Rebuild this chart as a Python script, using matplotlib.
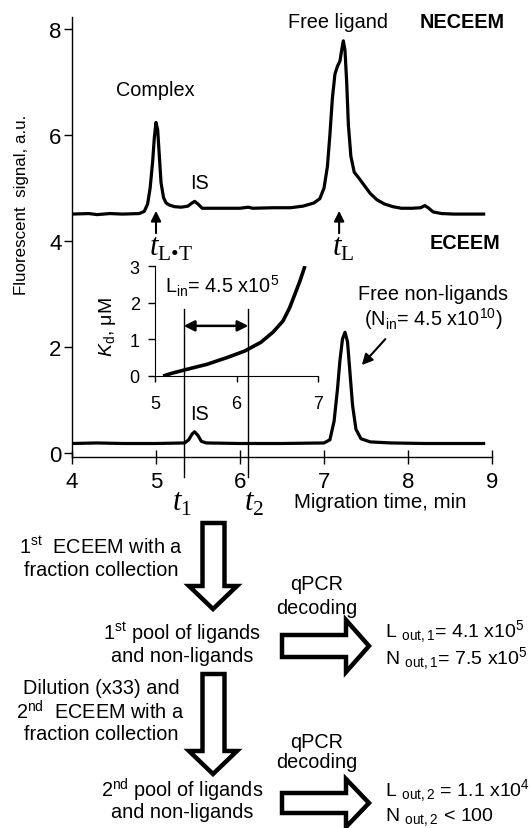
import matplotlib
matplotlib.use('Agg')
import matplotlib.pyplot as plt
from matplotlib.patches import Polygon

plt.rcParams['font.family'] = ['Liberation Sans', 'DejaVu Sans']
plt.rcParams['mathtext.fontset'] = 'custom'
plt.rcParams['mathtext.rm'] = 'Liberation Sans'
plt.rcParams['mathtext.it'] = 'Liberation Sans:italic'
plt.rcParams['mathtext.bf'] = 'Liberation Sans:bold'
plt.rcParams['mathtext.sf'] = 'Liberation Serif'
plt.rcParams['mathtext.cal'] = 'Liberation Serif:italic'

# NECEEM trace (migration time, min / signal, a.u.)
neceem_t = [4.00, 4.20, 4.30, 4.45, 4.60, 4.80, 4.86, 4.90, 4.93, 4.96, 4.98, 5.00,
            5.02, 5.04, 5.06, 5.09, 5.12, 5.16, 5.22, 5.30, 5.38, 5.42, 5.46, 5.50,
            5.55, 5.70, 6.00, 6.10, 6.15, 6.40, 6.60, 6.75, 6.88, 6.95, 7.00, 7.04,
            7.07, 7.10, 7.13, 7.16, 7.19, 7.21, 7.23, 7.25, 7.27, 7.29, 7.32, 7.36,
            7.41, 7.48, 7.55, 7.63, 7.72, 7.82, 7.92, 8.05, 8.15, 8.20, 8.24, 8.30,
            8.40, 8.55, 8.70, 8.90]
neceem_sig = [4.51, 4.52, 4.50, 4.52, 4.51, 4.52, 4.56, 4.70, 5.00, 5.50, 5.95, 6.24,
              6.10, 5.60, 5.10, 4.82, 4.72, 4.68, 4.65, 4.64, 4.66, 4.71, 4.75, 4.70,
              4.62, 4.62, 4.62, 4.64, 4.62, 4.63, 4.63, 4.66, 4.72, 4.80, 5.00, 5.40,
              6.00, 6.70, 7.15, 7.30, 7.40, 7.60, 7.78, 7.60, 7.00, 6.20, 5.60, 5.30,
              5.20, 5.05, 4.90, 4.78, 4.70, 4.65, 4.62, 4.62, 4.63, 4.67, 4.63, 4.55,
              4.52, 4.51, 4.51, 4.51]

# ECEEM trace
eceem_t = [4.00, 4.30, 4.60, 5.00, 5.34, 5.39, 5.43, 5.46, 5.50, 5.54, 5.60, 6.00,
           6.50, 7.00, 7.07, 7.12, 7.16, 7.19, 7.22, 7.25, 7.28, 7.31, 7.34, 7.38,
           7.44, 7.55, 7.80, 8.20, 8.60, 8.90]
eceem_sig = [0.18, 0.19, 0.18, 0.18, 0.19, 0.25, 0.36, 0.40, 0.33, 0.22, 0.19, 0.18,
             0.18, 0.19, 0.25, 0.60, 1.20, 1.75, 2.15, 2.28, 2.10, 1.50, 0.90, 0.45,
             0.27, 0.21, 0.19, 0.18, 0.18, 0.18]

# inset: Kd vs time
kd_t = [5.10, 5.20, 5.37, 5.64, 5.88, 6.10, 6.30, 6.45, 6.57, 6.65, 6.72, 6.78, 6.84]
kd_val = [0.00, 0.07, 0.17, 0.32, 0.50, 0.68, 0.92, 1.20, 1.50, 1.85, 2.25, 2.60, 3.00]

t1, t2 = 5.33, 6.10
main_yticks = [0, 2, 4, 6, 8]
main_xticks = [4, 5, 6, 7, 8, 9]

W, H = 530, 829
fig = plt.figure(figsize=(W / 100, H / 100), dpi=100)

# overlay in pixel units for the flow chart and free text
fax = fig.add_axes([0, 0, 1, 1], facecolor='none')
fax.set_xlim(0, W)
fax.set_ylim(H, 0)
fax.axis('off')

ax = fig.add_axes([72 / W, 1 - 458 / H, 420 / W, 440 / H], facecolor='none')
ax.plot(neceem_t, neceem_sig, color='black', lw=2.3, solid_joinstyle='round')
ax.plot(eceem_t, eceem_sig, color='black', lw=2.3, solid_joinstyle='round')
ax.set_xlim(4, 9)
ax.set_ylim(-0.075, 8.23)
ax.set_xticks(main_xticks)
ax.set_yticks(main_yticks)
for s in ['top', 'right']:
    ax.spines[s].set_visible(False)
for s in ['left', 'bottom']:
    ax.spines[s].set_linewidth(1.0)
ax.tick_params(axis='y', direction='out', length=6, width=1, labelsize=16, pad=1.5)
ax.tick_params(axis='x', direction='inout', length=10, width=1, labelsize=16, pad=5)

# t1 / t2 fraction window
for tt in (t1, t2):
    ax.plot([tt, tt], [-0.45, 2.72], color='black', lw=1.0, clip_on=False)
ax.annotate('', xy=(t2, 2.4), xytext=(t1, 2.4),
            arrowprops=dict(arrowstyle='<|-|>', color='black', lw=1.8,
                            mutation_scale=16, shrinkA=0, shrinkB=0))

# peak markers
for tp in (5.00, 7.18):
    ax.annotate('', xy=(tp, 4.57), xytext=(tp, 4.15),
                arrowprops=dict(arrowstyle='-|>', color='black', lw=1.5,
                                mutation_scale=15, shrinkA=0, shrinkB=0))
tfs = 22
ax.text(4.92, 3.88, '$\\mathcal{t}_{\\mathsf{L\u2022T}}$', fontsize=tfs, ha='left', va='center')
ax.text(7.10, 3.88, r'$\mathcal{t}_{\mathsf{L}}$', fontsize=tfs, ha='left', va='center')
ax.text(t1 - 0.02, -0.92, r'$\mathcal{t}_{\mathsf{1}}$', fontsize=tfs, ha='center', va='center',
        clip_on=False)
ax.text(t2 + 0.07, -0.92, r'$\mathcal{t}_{\mathsf{2}}$', fontsize=tfs, ha='center', va='center',
        clip_on=False)

lfs = 14.3
ax.text(4.99, 6.87, 'Complex', fontsize=lfs, ha='center', va='center')
ax.text(5.52, 5.11, 'IS', fontsize=lfs, ha='center', va='center')
ax.text(7.17, 8.15, 'Free ligand', fontsize=lfs, ha='center', va='center')
ax.text(8.64, 8.15, 'NECEEM', fontsize=lfs, fontweight='bold', ha='center', va='center')
ax.text(8.68, 3.98, 'ECEEM', fontsize=lfs, fontweight='bold', ha='center', va='center')
ax.text(5.52, 0.74, 'IS', fontsize=lfs, ha='center', va='center')
ax.text(8.30, 3.02, 'Free non-ligands', fontsize=lfs, ha='center', va='center')
ax.text(8.30, 2.55, r'(N$_{\mathregular{in}}$= 4.5 x10$^{\mathregular{10}}$)', fontsize=lfs,
        ha='center', va='center')
ax.annotate('', xy=(7.45, 1.66), xytext=(7.73, 2.15),
            arrowprops=dict(arrowstyle='-|>', color='black', lw=1.5,
                            mutation_scale=16, shrinkA=0, shrinkB=0))

# inset
axi = fig.add_axes([155 / W, 1 - 377 / H, 163 / W, 110 / H], facecolor='none')
axi.plot(kd_t, kd_val, color='black', lw=2.6, solid_capstyle='butt')
axi.set_xlim(5, 7)
axi.set_ylim(0, 3)
axi.set_xticks([5, 6, 7])
axi.set_yticks([0, 1, 2, 3])
for s in ['top', 'right']:
    axi.spines[s].set_visible(False)
axi.tick_params(axis='y', direction='out', length=5, width=1, labelsize=13, pad=6)
axi.tick_params(axis='x', direction='out', length=4, width=1, labelsize=13, pad=10)
axi.text(-0.29, 0.45, r'$\mathit{K}_{\mathregular{d}}$, μM', transform=axi.transAxes,
         rotation=90, fontsize=14, ha='center', va='center')
axi.text(0.06, 0.82, r'L$_{\mathregular{in}}$= 4.5 x10$^{\mathregular{5}}$', transform=axi.transAxes,
         fontsize=lfs, ha='left', va='center')

# axis titles
fax.text(22, 205, 'Fluorescent  signal, a.u.', rotation=90, fontsize=12.2, ha='center', va='center')
fax.text(380, 502, 'Migration time, min', fontsize=14.8, ha='center', va='center')

# flow chart
def down_arrow(x0, x1, top, base, tip, hx0, hx1):
    xc = (hx0 + hx1) / 2
    pts = [(x0, top), (x1, top), (x1, base), (hx1, base), (xc, tip), (hx0, base), (x0, base)]
    fax.add_patch(Polygon(pts, closed=True, fill=False, ec='black', lw=3.2, joinstyle='miter'))


def right_arrow(left, base, tip, yc, shaft_h, head_h):
    pts = [(left, yc - shaft_h), (base, yc - shaft_h), (base, yc - head_h), (tip, yc),
           (base, yc + head_h), (base, yc + shaft_h), (left, yc + shaft_h)]
    fax.add_patch(Polygon(pts, closed=True, fill=False, ec='black', lw=3.2, joinstyle='miter'))


down_arrow(202.5, 224.5, 524, 587, 610, 189, 237)
down_arrow(202.5, 224.5, 675, 752, 775, 189, 237)
right_arrow(282, 346, 369, 647, 11, 26)
right_arrow(282, 346, 369, 804, 10, 24)

fs = 14.3
rfs = 14
fax.text(101, 547, r'1$^{\mathregular{st}}$  ECEEM with a', fontsize=fs, ha='center', va='center')
fax.text(101, 570, 'fraction collection', fontsize=fs, ha='center', va='center')
fax.text(317, 585, 'qPCR', fontsize=fs, ha='center', va='center')
fax.text(317, 608, 'decoding', fontsize=fs, ha='center', va='center')
fax.text(182, 633, r'1$^{\mathregular{st}}$ pool of ligands', fontsize=fs, ha='center', va='center')
fax.text(182, 657, 'and non-ligands', fontsize=fs, ha='center', va='center')
fax.text(385, 632, r'L $_{\mathregular{out,1}}$= 4.1 x10$^{\mathregular{5}}$', fontsize=rfs,
         ha='left', va='center')
fax.text(385, 659, r'N $_{\mathregular{out,1}}$= 7.5 x10$^{\mathregular{5}}$', fontsize=rfs,
         ha='left', va='center')
fax.text(101, 688, 'Dilution (x33) and', fontsize=fs, ha='center', va='center')
fax.text(100, 712, r'2$^{\mathregular{nd}}$  ECEEM with a', fontsize=fs, ha='center', va='center')
fax.text(101, 735, 'fraction collection', fontsize=fs, ha='center', va='center')
fax.text(317, 742, 'qPCR', fontsize=fs, ha='center', va='center')
fax.text(317, 763, 'decoding', fontsize=fs, ha='center', va='center')
fax.text(182, 790, r'2$^{\mathregular{nd}}$ pool of ligands', fontsize=fs, ha='center', va='center')
fax.text(182, 813, 'and non-ligands', fontsize=fs, ha='center', va='center')
fax.text(385, 791, r'L $_{\mathregular{out,2}}$ = 1.1 x10$^{\mathregular{4}}$', fontsize=rfs,
         ha='left', va='center')
fax.text(385, 817, r'N $_{\mathregular{out,2}}$ < 100', fontsize=rfs, ha='left', va='center')

fig.savefig('out.png', dpi=100)
